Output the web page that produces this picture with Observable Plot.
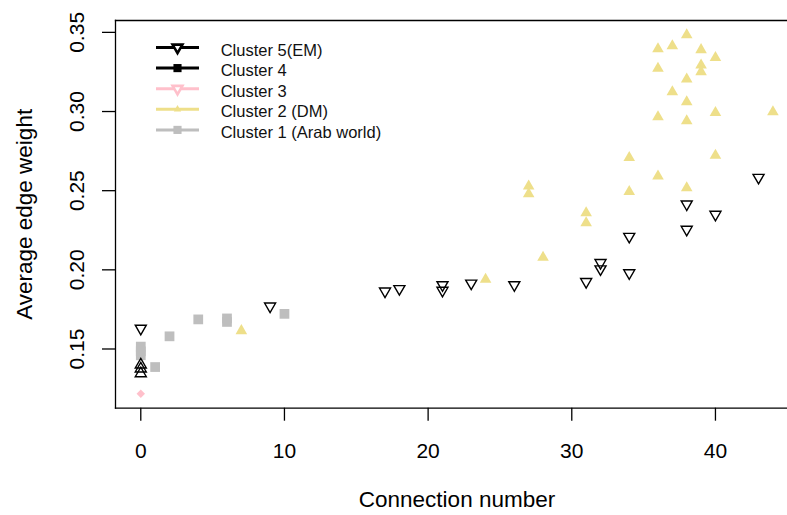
<!DOCTYPE html>
<html>
<head>
<meta charset="utf-8">
<script src="https://cdn.jsdelivr.net/npm/d3@7"></script>
<script src="https://cdn.jsdelivr.net/npm/@observablehq/plot@0.6"></script>
<style>
  html, body { margin: 0; padding: 0; background: #fff; overflow: hidden; }
  #chart { width: 787px; height: 515px; }
</style>
</head>
<body>
<div id="chart"></div>
<script>
// ---- Data ----
const em_x = [0, 9, 17, 18, 21, 21, 23, 26, 31, 32, 32, 34, 34, 38, 38, 40, 43];
const em_y = [0.163, 0.177, 0.1865, 0.188, 0.1905, 0.187, 0.1915, 0.1905, 0.1925, 0.2045, 0.2005, 0.221, 0.198, 0.2415, 0.2255, 0.235, 0.2583];

const c4_x = [0, 0, 0];
const c4_y = [0.1400, 0.1375, 0.1345];

const c3_x = [0];
const c3_y = [0.1217];

const dm_x = [7, 24, 27, 27, 28, 31, 31, 34, 34, 36, 36, 36, 36, 37, 37, 38, 38, 38, 38, 38, 39, 39, 39, 40, 40, 40, 44];
const dm_y = [0.1615, 0.194, 0.2528, 0.2479, 0.2078, 0.236, 0.2296, 0.2708, 0.2494, 0.3395, 0.3272, 0.2966, 0.2591, 0.3414, 0.3124, 0.3484, 0.3205, 0.306, 0.294, 0.2517, 0.339, 0.3293, 0.3251, 0.334, 0.2993, 0.2723, 0.2997];

const arab_x = [0, 0, 0, 1, 2, 4, 6, 6, 10];
const arab_y = [0.1515, 0.1485, 0.146, 0.1386, 0.158, 0.1687, 0.1693, 0.1671, 0.1722];

const xTicks = [0, 10, 20, 30, 40];
const yTicks = [0.15, 0.20, 0.25, 0.30, 0.35];

const legendLabels = ["Cluster 5(EM)", "Cluster 4", "Cluster 3", "Cluster 2 (DM)", "Cluster 1 (Arab world)"];
const legendColors = ["#000000", "#000000", "#FFC0CB", "#EEDF8A", "#BEBEBE"];
const legendShapes = ["down-open", "square", "down-open", "up", "square"];

const KHAKI = "#EEDF8A", GRAY = "#BEBEBE", PINK = "#FFC0CB";

const toRows = (xs, ys) => xs.map((x, i) => ({x, y: ys[i]}));
const em = toRows(em_x, em_y);
const c4 = toRows(c4_x, c4_y);
const c3 = toRows(c3_x, c3_y);
const dm = toRows(dm_x, dm_y);
const arab = toRows(arab_x, arab_y);

const FONT = "'Liberation Sans', Arial, sans-serif";

const plot = Plot.plot({
  width: 787,
  height: 515,
  marginLeft: 115,
  marginTop: 20,
  marginBottom: 107.3,
  marginRight: 0,
  style: {fontFamily: FONT, fontSize: "21px", color: "#000", background: "#fff", overflow: "hidden"},
  x: {domain: [-1.76, 45.76], range: [115, 797.7]},
  y: {domain: [0.1126, 0.3575], range: [407.7, 20]},
  marks: [
    Plot.frame({anchor: "left", stroke: "#000", strokeWidth: 1.3}),
    Plot.frame({anchor: "top", stroke: "#000", strokeWidth: 1.3}),
    Plot.frame({anchor: "bottom", stroke: "#000", strokeWidth: 1.3}),
    Plot.axisX({ticks: xTicks, tickSize: 13, tickPadding: 21.7, tickFormat: d3.format("d"), label: null, stroke: "#000", strokeWidth: 1.3, fill: "#000"}),
    Plot.axisY({ticks: yTicks, tickSize: 13, tickPadding: 18.5, tickRotate: -90, tickFormat: d3.format(".2f"), label: null, stroke: "#000", strokeWidth: 1.3, fill: "#000"}),
    Plot.text(["Average edge weight"], {frameAnchor: "left", dx: -84, rotate: -90, lineAnchor: "bottom", textAnchor: "middle", fontSize: 22.5, fill: "#000"}),
    Plot.text(["Connection number"], {frameAnchor: "bottom", dx: 5.5, dy: 98.3, lineAnchor: "bottom", textAnchor: "middle", fontSize: 22.5, fill: "#000"}),
    Plot.dot(arab, {x: "x", y: "y", symbol: "square", r: 5.5, fill: GRAY, stroke: "none"}),
    Plot.dot(dm, {x: "x", y: "y", symbol: "triangle", r: 4.3, fill: KHAKI, stroke: "none"}),
    Plot.dot(em, {x: "x", y: "y", symbol: "triangle", rotate: 180, r: 4.1, fill: "none", stroke: "#000", strokeWidth: 1.4}),
    Plot.dot(c4, {x: "x", y: "y", symbol: "triangle", r: 4.1, fill: "none", stroke: "#000", strokeWidth: 1.4}),
    Plot.dot(c3, {x: "x", y: "y", symbol: "diamond2", r: 3.8, fill: PINK, stroke: "none"})
  ]
});

document.getElementById("chart").appendChild(plot);

// ---- Legend (inside the SVG, top-left of the plot area) ----
const svg = d3.select(plot);
const lg = svg.append("g").attr("font-family", FONT).attr("font-size", 16.5).attr("text-anchor", "start");
const lx0 = 156, lx1 = 199, lmx = 177.5, ly0 = 47.5, ldy = 20.6, ltx = 220.7;
legendLabels.forEach((lab, i) => {
  const y = ly0 + i * ldy;
  const col = legendColors[i];
  lg.append("line").attr("x1", lx0).attr("x2", lx1).attr("y1", y).attr("y2", y)
    .attr("stroke", col).attr("stroke-width", 3);
  const shape = legendShapes[i];
  if (shape === "down-open") {
    lg.append("path").attr("d", d3.symbol(d3.symbolTriangle, 42)())
      .attr("transform", `translate(${lmx},${y}) rotate(180)`)
      .attr("fill", "#fff").attr("stroke", col).attr("stroke-width", 2.6);
  } else if (shape === "square") {
    lg.append("path").attr("d", d3.symbol(d3.symbolSquare, 66)())
      .attr("transform", `translate(${lmx},${y})`).attr("fill", col);
  } else {
    lg.append("path").attr("d", d3.symbol(d3.symbolTriangle, 24)())
      .attr("transform", `translate(${lmx},${y})`).attr("fill", col);
  }
  lg.append("text").attr("x", ltx).attr("y", y + 8).attr("text-anchor", "start").attr("fill", "#111").text(lab);
});
</script>
</body>
</html>
